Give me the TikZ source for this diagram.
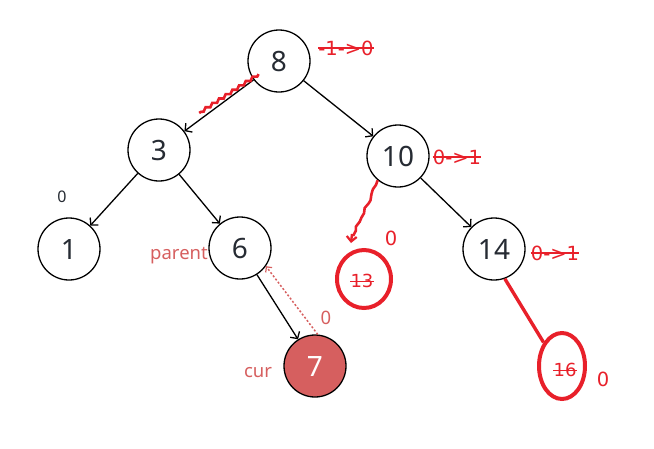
\documentclass[tikz,border=0pt]{standalone}
\usepackage{fontspec}
\setmainfont{Noto Sans}
\newfontfamily\labfont{DejaVu Sans}
\usetikzlibrary{arrows.meta,decorations.pathmorphing,shapes.geometric,calc}
\definecolor{mark}{HTML}{E8202A}
\definecolor{soft}{HTML}{D65F5F}
\definecolor{ink}{HTML}{262B33}
\begin{document}
\begin{tikzpicture}[x=1pt,y=-1pt,
  tnode/.style={circle,draw=black,line width=1.3pt,minimum size=62pt,inner sep=0pt,
    font=\fontsize{28}{32}\selectfont,text=ink},
  arr/.style={-{Straight Barb[length=5pt,width=11pt,line width=1.3pt]},line width=1.3pt},
  redring/.style={ellipse,draw=mark,line width=4pt,inner sep=0pt},
  strike/.style={text=mark,inner sep=0pt,font=\labfont\fontsize{19.5}{22}\selectfont},
  strikeline/.style={draw=mark,line width=1.4pt},
  softtxt/.style={text=soft,inner sep=0pt,font=\fontsize{18.5}{20}\selectfont},
  wavy/.style={draw=mark,line width=2.6pt,decorate,decoration={snake,amplitude=1.3pt,segment length=8pt}},
  jag/.style={draw=mark,line width=2.6pt,decorate,decoration={random steps,segment length=5pt,amplitude=1.6pt}}
]
\useasboundingbox (0,0) rectangle (654,448);
\pgfmathsetseed{7}
% tree nodes
\node[tnode] (n8) at (279,61) {8};
\node[tnode] (n3) at (159,150) {3};
\node[tnode] (n10) at (398,156) {10};
\node[tnode] (n1) at (69,249) {1};
\node[tnode] (n6) at (240,248) {6};
\node[tnode] (n14) at (494,249) {14};
\node[tnode,fill=soft,text=white] (n7) at (315,366) {7};
% red rings
\node[redring,minimum width=54pt,minimum height=58pt] (n13) at (364,279) {};
\node[redring,minimum width=46pt,minimum height=66pt] (n16) at (562,366) {};
\node[strike,font=\labfont\fontsize{18}{20}\selectfont] (t13) at (362,281) {13};
\draw[strikeline,line width=1pt] (t13.west) -- (t13.east);
\node[strike,font=\labfont\fontsize{18}{20}\selectfont] (t16) at (565,370) {16};
\draw[strikeline,line width=1pt] (t16.west) -- (t16.east);
% black edges
\draw[arr] (n8) -- (n3);
\draw[arr] (n8) -- (n10);
\draw[arr] (n3) -- (n1);
\draw[arr] (n3) -- (n6);
\draw[arr] (n10) -- (n14);
\draw[arr] (n6) -- (n7);
% red overlays
\draw[wavy] ($(n8)!0.17!(n3)+(0,-2)$) -- ($(n8)!0.64!(n3)+(-3,-5)$);
\coordinate (tip13) at (351,243);
\draw[jag] (n10.230) -- ($(tip13)+(2,-7)$);
\draw[draw=mark,line width=2.4pt,-{Straight Barb[length=5pt,width=10pt,line width=2.2pt]}] ($(tip13)+(1,-9)$) -- (tip13);
\draw[draw=mark,line width=3.4pt] (n14.-70) -- (n16.128);
% dotted back arrow
\draw[soft,line width=1.5pt,dash pattern=on 2pt off 2pt,-{Straight Barb[length=4pt,width=8pt,line width=1.2pt]}] (n7.85) -- (n6.-35);
% balance labels
\node[strike] (l8) at (346,48) {-1->0};
\draw[strikeline] (l8.west) -- (l8.east);
\node[strike] (l10) at (457,157) {0->1};
\draw[strikeline] (l10.west) -- (l10.east);
\node[strike] (l14) at (555,253) {0->1};
\draw[strikeline] (l14.west) -- (l14.east);
\node[strike] (z13) at (391,238) {0};
\node[strike] (z16) at (603,379) {0};
\node[inner sep=0pt,text=ink,font=\fontsize{16}{18}\selectfont] (z1) at (62,197) {0};
\node[softtxt] (par) at (179,256) {parent};
\node[softtxt] (cur) at (258,373) {cur};
\node[softtxt] (z7) at (326,318) {0};
\end{tikzpicture}
\end{document}
